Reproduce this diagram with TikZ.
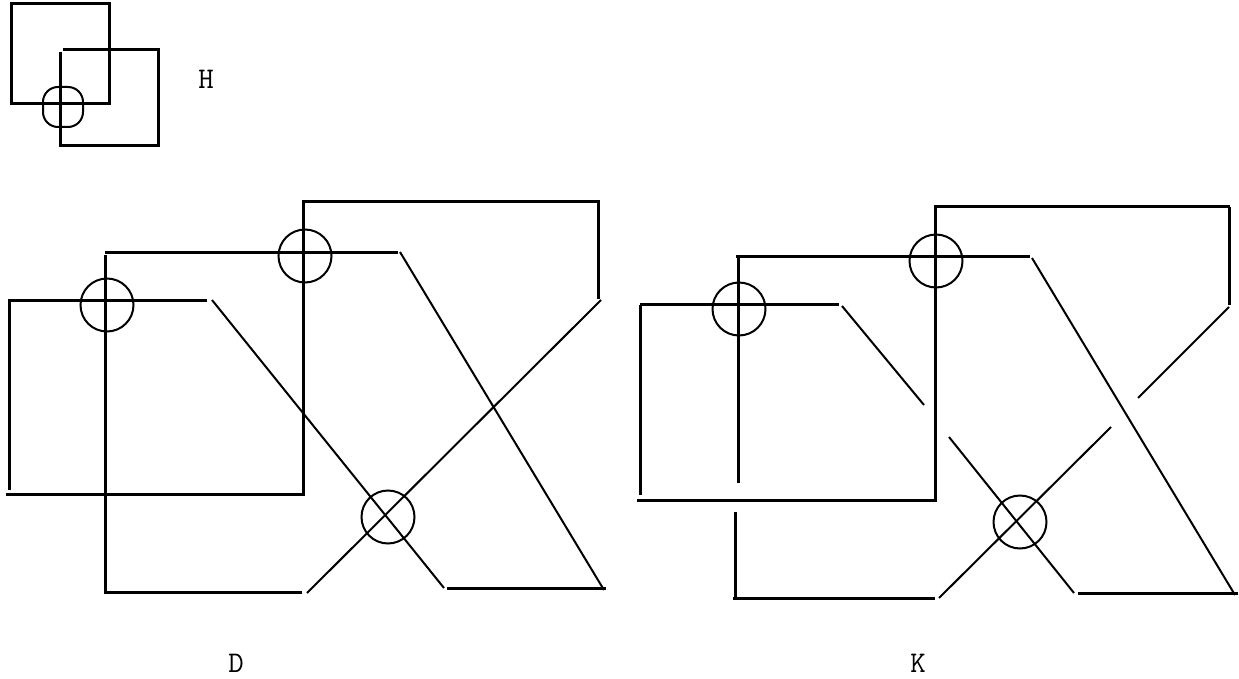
\documentclass[tikz,border=0pt]{standalone}
\begin{document}
\begin{tikzpicture}[x=1pt,y=-1pt,
  thk/.style={line width=3pt},
  thn/.style={line width=2pt},
  ring/.style={line width=2pt},
  lbl/.style={inner sep=0pt,font=\fontsize{30}{34}\selectfont\ttfamily}]
\useasboundingbox (0,0) rectangle (1239,679);
% ---------- small figure H ----------
\draw[thk] (11,4) rectangle (109,104);
\draw[thk] (60,52) -- (60,146) -- (158,146) -- (158,50) -- (63,50);
\draw[ring,rounded corners=15pt] (43,87) rectangle (83,127);
\node[lbl] (H) at (206,79) {H};
% ---------- figure D ----------
\draw[thk] (9,490) -- (9,300) -- (207,300);
\draw[thk] (6,494) -- (303,494) -- (303,202) -- (598,202) -- (598,299);
\draw[thk] (105,252) -- (398,252);
\draw[thk] (105,255) -- (105,592) -- (302,592);
\draw[thn] (212,300) -- (444,588);
\draw[thk] (447,588) -- (606,588);
\draw[thn] (400,252) -- (604,590);
\draw[thn] (601,300) -- (307,593);
\draw[ring] (107,305) circle (26.5);
\draw[ring] (305,256) circle (26.5);
\draw[ring] (388,517) circle (26.5);
\node[lbl] (D) at (236,663) {D};
% ---------- figure K ----------
\draw[thk] (640,495) -- (640,305);
\draw[thk] (640,304) -- (839,304);
\draw[thn] (842,306) -- (924,405);
\draw[thk] (637,500) -- (937,500);
\draw[thk] (935,500) -- (935,207) -- (1230,207);
\draw[thk] (1229,207) -- (1229,305);
\draw[thn] (1229,307) -- (1138,398);
\draw[thk] (736,256) -- (1030,256);
\draw[thk] (738,257) -- (738,483);
\draw[thk] (735,512) -- (735,598);
\draw[thk] (733,598) -- (935,598);
\draw[thn] (1032,258) -- (1235,595);
\draw[thk] (1078,593) -- (1238,593);
\draw[thn] (949,437) -- (1074,593);
\draw[thn] (1111,427) -- (939,598);
\draw[ring] (739,309) circle (26.5);
\draw[ring] (936,261) circle (26.5);
\draw[ring] (1020,522) circle (26.5);
\node[lbl] (K) at (918,663) {K};
\end{tikzpicture}
\end{document}
